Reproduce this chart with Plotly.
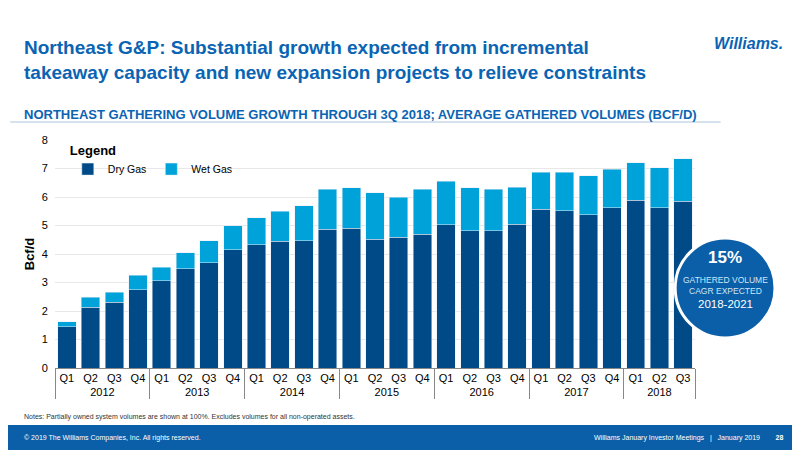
import plotly.graph_objects as go

years = ["2012"] * 4 + ["2013"] * 4 + ["2014"] * 4 + ["2015"] * 4 + ["2016"] * 4 + ["2017"] * 4 + ["2018"] * 3
quarters = ["Q1", "Q2", "Q3", "Q4"] * 6 + ["Q1", "Q2", "Q3"]
dry = [1.45, 2.13, 2.30, 2.75, 3.07, 3.48, 3.70, 4.15, 4.32, 4.44, 4.47, 4.87,
       4.91, 4.51, 4.58, 4.70, 5.02, 4.82, 4.82, 5.05, 5.57, 5.52, 5.37, 5.62,
       5.88, 5.62, 5.85]
total = [1.62, 2.48, 2.66, 3.26, 3.53, 4.05, 4.47, 5.00, 5.27, 5.50, 5.70, 6.27,
         6.33, 6.15, 6.00, 6.28, 6.55, 6.32, 6.28, 6.35, 6.87, 6.87, 6.75, 6.98,
         7.20, 7.02, 7.35]
wet = [round(t - d, 2) for t, d in zip(total, dry)]

DARK = "#004b87"
LIGHT = "#00a3d9"
BLUE = "#0a64b4"

fig = go.Figure()
fig.add_trace(go.Bar(x=[years, quarters], y=dry, name="Dry Gas", marker_color=DARK))
fig.add_trace(go.Bar(x=[years, quarters], y=wet, name="Wet Gas", marker_color=LIGHT))

fig.update_layout(
    barmode="stack", bargap=0.22,
    width=800, height=450,
    paper_bgcolor="white", plot_bgcolor="white",
    margin=dict(l=47, r=113, t=132, b=90, autoexpand=False),
    font=dict(family="Liberation Sans, Arial", color="black", size=11),
    legend=dict(x=0.02, y=1.01, yanchor="top", orientation="h", traceorder="normal",
                title=dict(text="<b>Legend</b>", side="top"), itemwidth=30, tracegroupgap=0,
                font=dict(size=10.5), bgcolor="rgba(0,0,0,0)"),
    showlegend=True,
)
fig.update_yaxes(range=[0, 8], dtick=1, gridcolor="#e8e8e8", zeroline=False,
                 title=dict(text="<b>Bcf/d</b>", standoff=4),
                 tickfont=dict(size=11, color="black"), ticksuffix="  ")
fig.update_xaxes(showline=True, linecolor="#888", showdividers=True, dividercolor="#888",
                 tickfont=dict(size=11, color="black"))

# header
fig.add_annotation(text="<b>Northeast G&P: Substantial growth expected from incremental<br>takeaway capacity and new expansion projects to relieve constraints</b>",
                   xref="paper", yref="paper", x=-0.052, y=1.46, xanchor="left", yanchor="top",
                   showarrow=False, align="left", font=dict(size=19, color=BLUE))
fig.add_annotation(text="<b><i>Williams.</i></b>", xref="paper", yref="paper", x=1.14, y=1.47,
                   xanchor="right", yanchor="top", showarrow=False, font=dict(size=16, color=BLUE))
fig.add_shape(type="line", xref="paper", yref="paper", x0=-0.07, x1=1.04, y0=1.079, y1=1.079,
              line=dict(color="#b0c4de", width=1))
fig.add_annotation(text="<b>NORTHEAST GATHERING VOLUME GROWTH THROUGH 3Q 2018; AVERAGE GATHERED VOLUMES (BCF/D)</b>",
                   xref="paper", yref="paper", x=-0.052, y=1.11, xanchor="left", yanchor="middle",
                   showarrow=False, font=dict(size=13, color=BLUE))

# badge
fig.add_shape(type="circle", xref="paper", yref="paper", x0=0.969, x1=1.125, y0=0.132, y1=0.57,
              fillcolor="#0a5fa8", line=dict(color="white", width=3))
fig.add_annotation(text="<b>15%</b>", xref="paper", yref="paper", x=1.047, y=0.485, xanchor="center",
                   showarrow=False, font=dict(size=17, color="white"))
fig.add_annotation(text="GATHERED VOLUME<br>CAGR EXPECTED", xref="paper", yref="paper", x=1.047, y=0.36,
                   xanchor="center", showarrow=False, font=dict(size=8.5, color="#cfe6f7"))
fig.add_annotation(text="2018-2021", xref="paper", yref="paper", x=1.047, y=0.245, xanchor="center",
                   showarrow=False, font=dict(size=11.5, color="white"))

# notes & footer
fig.add_annotation(text="Notes: Partially owned system volumes are shown at 100%. Excludes volumes for all non-operated assets.",
                   xref="paper", yref="paper", x=-0.052, y=-0.215, xanchor="left", yanchor="middle",
                   showarrow=False, font=dict(size=7, color="#333"))
fig.add_shape(type="rect", xref="paper", yref="paper", x0=-0.09, x1=1.2, y0=-0.25, y1=-0.4,
              fillcolor="#0a5fa8", line_width=0, layer="below")
fig.add_annotation(text="© 2019 The Williams Companies, Inc. All rights reserved.", xref="paper", yref="paper",
                   x=-0.052, y=-0.307, xanchor="left", yanchor="middle", showarrow=False,
                   font=dict(size=7, color="white"))
fig.add_annotation(text="Williams January Investor Meetings   |   January 2019        <b>28</b>", xref="paper", yref="paper",
                   x=1.14, y=-0.307, xanchor="right", yanchor="middle", showarrow=False,
                   font=dict(size=7, color="white"))

fig.write_html("out.html")
